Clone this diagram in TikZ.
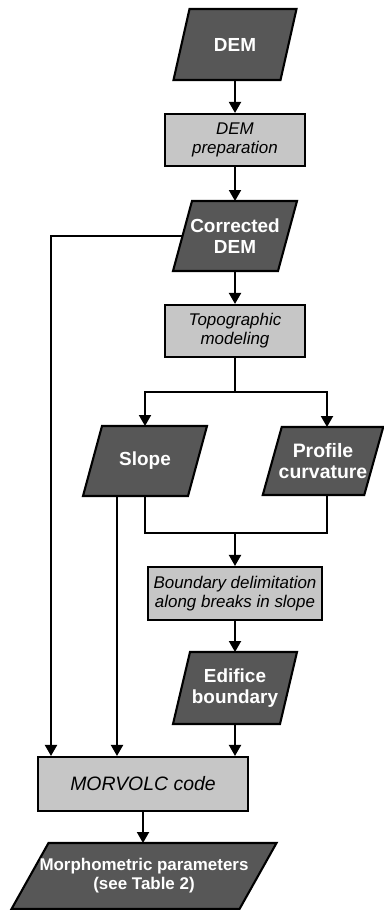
\documentclass[tikz,border=0pt]{standalone}
\usepackage{fontspec}
\setmainfont{Liberation Sans}
\usetikzlibrary{arrows.meta,backgrounds}
\definecolor{darkfill}{HTML}{575757}
\definecolor{lightfill}{HTML}{C6C6C6}
\begin{document}
\begin{tikzpicture}[x=1bp,y=-1bp,
  databox/.style={rectangle, inner sep=0pt, outer sep=0pt, text=white,
    font=\bfseries\fontsize{19}{21}\selectfont, align=center},
  procbox/.style={rectangle, draw=black, line width=2.1bp, fill=lightfill,
    font=\itshape\fontsize{17}{19}\selectfont, align=center, inner sep=0pt},
  paraback/.style={fill=darkfill, draw=black, line width=2.1bp, line join=miter},
  conn/.style={line width=2bp, -{Triangle[length=11bp,width=12bp]}},
  plain/.style={line width=2bp}]
\useasboundingbox (0,0) rectangle (383,910);

\node[databox, minimum width=107bp, minimum height=71bp] (dem) at (235,44.5) {DEM};
\node[procbox, minimum width=140bp, minimum height=52bp] (prep) at (235,140) {DEM\\preparation};
\node[databox, minimum width=105bp, minimum height=70bp] (cdem) at (235,236) {Corrected\\DEM};
\node[procbox, minimum width=140bp, minimum height=52bp] (topo) at (235,331) {Topographic\\modeling};
\node[databox, minimum width=105bp, minimum height=70bp] (slope) at (145,461) {Slope};
\node[databox, minimum width=101.5bp, minimum height=68bp, font=\bfseries\fontsize{19.5}{21}\selectfont] (prof) at (323,461) {Profile\\curvature};
\node[procbox, minimum width=174bp, minimum height=53bp] (bnd) at (235,593.5) {Boundary delimitation\\along breaks in slope};
\node[databox, minimum width=107bp, minimum height=72bp] (edif) at (235,688) {Edifice\\boundary};
\node[procbox, minimum width=210bp, minimum height=54bp, font=\itshape\fontsize{19.5}{21}\selectfont] (morv) at (143,784) {MORVOLC code};
\node[databox, minimum width=228bp, minimum height=66bp, font=\bfseries\fontsize{17}{19}\selectfont] (morph) at (144,876) {Morphometric parameters\\(see Table 2)};

\begin{scope}[on background layer]
\foreach \n/\s in {dem/16, cdem/19, slope/19, prof/19, edif/17, morph/37} {
  \draw[paraback] ([xshift=\s*0.5bp]\n.north west) -- ([xshift=\s*0.5bp]\n.north east)
    -- ([xshift=-\s*0.5bp]\n.south east) -- ([xshift=-\s*0.5bp]\n.south west) -- cycle;
}
\end{scope}

\coordinate (split) at (235,392);
\coordinate (join) at (235,533);

\draw[conn] (dem) -- (prep);
\draw[conn] (prep) -- (cdem);
\draw[conn] (cdem) -- (topo);
\draw[plain] (topo) -- (split);
\draw[conn] (split) -| (slope.north);
\draw[conn] (split) -| ([xshift=4bp]prof.north);
\draw[plain] (slope.south) |- (join);
\draw[plain] ([xshift=4bp]prof.south) |- (join);
\draw[conn] (join) -- (bnd);
\draw[conn] (bnd) -- (edif);
\draw[conn] (edif.south) -- (edif.south |- morv.north);
\draw[conn] ([xshift=-28bp]slope.south) -- ([xshift=-28bp]slope.south |- morv.north);
\draw[conn] (cdem.west) -| ([xshift=-92bp]morv.north);
\draw[conn] (morv.south) -- (morv.south |- morph.north);
\end{tikzpicture}
\end{document}
